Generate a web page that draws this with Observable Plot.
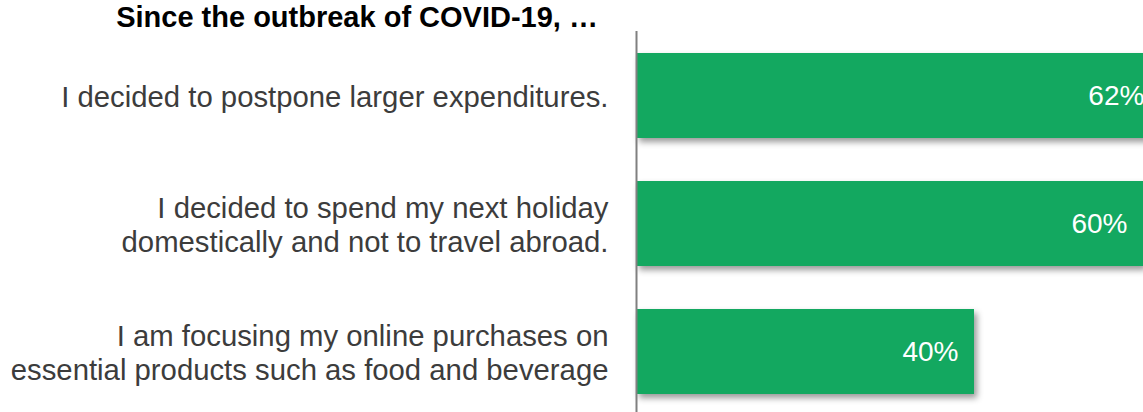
<!DOCTYPE html>
<html>
<head>
<meta charset="utf-8">
<script src="https://cdn.jsdelivr.net/npm/d3@7"></script>
<script src="https://cdn.jsdelivr.net/npm/@observablehq/plot@0.6"></script>
<style>
  html, body { margin: 0; padding: 0; background: #fff; overflow: hidden; }
  #title {
    width: 598px; height: 31px; line-height: 31px; text-align: right;
    font-family: "Liberation Sans", Arial, sans-serif; font-weight: bold;
    font-size: 29px; color: #000; position: relative; top: 2px; white-space: nowrap;
  }
  #chart svg { display: block; }
</style>
</head>
<body>
<div id="title">Since the outbreak of COVID-19, …</div>
<div id="chart"></div>
<script>
const titleText = "Since the outbreak of COVID-19, …";
const categories = [
  "I decided to postpone larger expenditures.",
  "I decided to spend my next holiday\ndomestically and not to travel abroad.",
  "I am focusing my online purchases on\nessential products such as food and beverage"
];
const values = [62, 60, 40];

const data = categories.map((c, i) => ({category: c, value: values[i]}));

const chart = Plot.plot({
  width: 1143,
  height: 381,
  marginLeft: 0,
  marginRight: 0,
  marginTop: 0,
  marginBottom: 0,
  style: {fontFamily: '"Liberation Sans", Arial, sans-serif', background: "#fff", overflow: "hidden"},
  x: {domain: [0, 60], range: [636, 1143], axis: null},
  y: {domain: categories, range: [0, 384.6], paddingInner: 0.336, paddingOuter: 0.168, axis: null},
  marks: [
    Plot.barX(data, {y: "category", x1: 0, x2: "value", fill: "#13a860"}),
    Plot.text(data, {
      y: "category", x: "value", text: d => `${d.value}%`,
      textAnchor: "end", dx: -16, fill: "#fff", fontSize: 28
    }),
    Plot.text(data, {
      y: "category", x: 0, text: "category",
      textAnchor: "end", dx: -28, fill: "#3c3c3c", fontSize: 29.3, lineHeight: 1.16
    }),
    Plot.ruleX([0], {stroke: "#808080", strokeWidth: 2})
  ]
});

const barGroup = chart.querySelector('g[aria-label="bar"]');
if (barGroup) barGroup.style.filter = "drop-shadow(3px 4px 3px rgba(0,0,0,0.4))";

document.getElementById("chart").appendChild(chart);
</script>
</body>
</html>
